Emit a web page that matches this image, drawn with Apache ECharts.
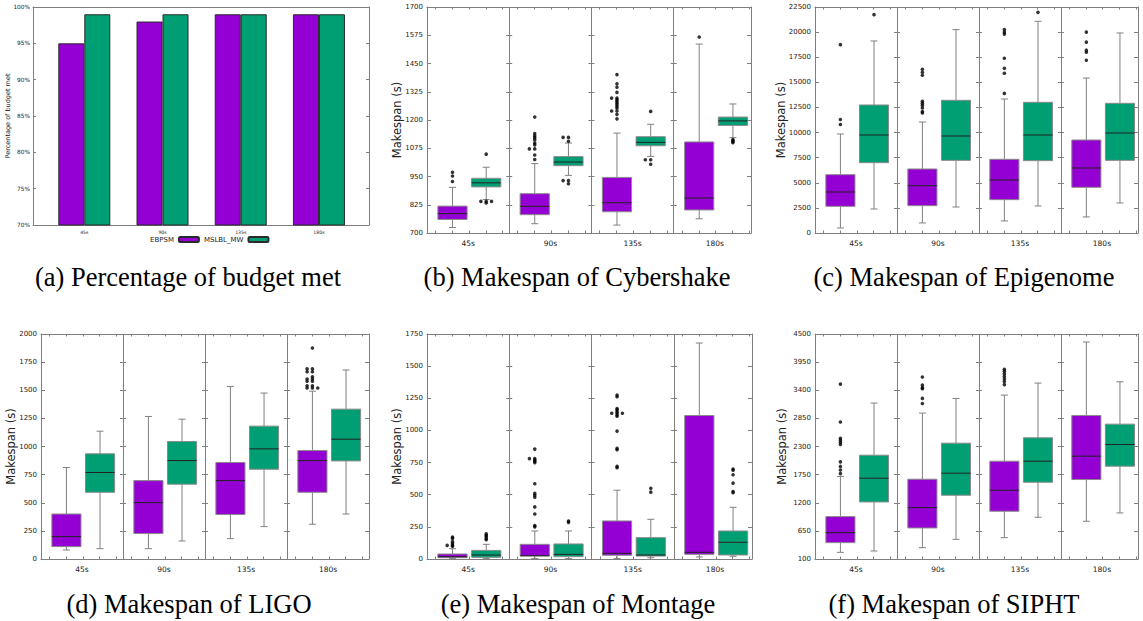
<!DOCTYPE html>
<html><head><meta charset="utf-8">
<script src="https://cdn.jsdelivr.net/npm/echarts@6/dist/echarts.min.js"></script>
<style>html,body{margin:0;padding:0;background:#fff}#c{width:1143px;height:621px}</style>
</head><body><div id="c"></div>
<script>
// ---------------- DATA ----------------
const categories = ['45s', '90s', '135s', '180s'];
const seriesNames = ['EBPSM', 'MSLBL_MW'];

// (a) percentage of budget met
const budgetTicks = [70, 75, 80, 85, 90, 95, 100];
const budgetEBPSM = [95, 98, 99, 99];
const budgetMSLBL = [99, 99, 99, 99];

// box stats: [min, Q1, median, Q3, max] per category
// (b) Cybershake
const cyberTicks = [700, 825, 950, 1075, 1200, 1325, 1450, 1575, 1700];
const cyberEBPSM = [[724, 760, 786, 819, 902], [741, 781, 818, 874, 1007], [735, 794, 834, 946, 1142], [763, 802, 855, 1103, 1536]];
const cyberEBPSMOut = [[969, 952, 928], [1213, 1140, 1130, 1122, 1112, 1098, 1090, 1072, 1072, 1045, 1025], [1401, 1360, 1345, 1322, 1297, 1297, 1290, 1283, 1275, 1268, 1260, 1252, 1240, 1240, 1225, 1205], [1567]];
const cyberMSLBL = [[848, 904, 922, 942, 991], [955, 998, 1014, 1038, 1098], [1039, 1086, 1101, 1126, 1181], [1122, 1176, 1196, 1213, 1271]];
const cyberMSLBLOut = [[1049, 840, 840, 840, 833], [1123, 1123, 1106, 932, 932, 918], [1238, 1024, 1024, 1004], [1113, 1108, 1104, 1100]];

// (c) Epigenome
const epiTicks = [0, 2500, 5000, 7500, 10000, 12500, 15000, 17500, 20000, 22500];
const epiEBPSM = [[500, 2655, 4082, 5808, 9857], [1000, 2722, 4713, 6372, 11050], [1200, 3319, 5277, 7335, 13340], [1600, 4547, 6472, 9260, 15430]];
const epiEBPSMOut = [[18750, 11300, 10800], [16300, 16000, 15700, 13100, 12900, 12700, 12450, 12100, 11950], [20250, 20000, 19800, 17400, 16400, 15900, 13900], [20000, 19000, 18200, 18000, 17200]];
const epiMSLBL = [[2390, 7003, 9758, 12745, 19117], [2590, 7235, 9658, 13210, 20246], [2690, 7202, 9758, 13011, 21076], [2990, 7235, 9957, 12911, 19914]];
const epiMSLBLOut = [[21740], [], [21970], []];

// (d) LIGO
const ligoTicks = [0, 250, 500, 750, 1000, 1250, 1500, 1750, 2000];
const ligoEBPSM = [[80, 110, 199, 400, 813], [92, 226, 501, 697, 1267], [181, 395, 697, 858, 1534], [309, 593, 875, 964, 1492]];
const ligoEBPSMOut = [[], [], [], [1875, 1690, 1690, 1665, 1665, 1620, 1600, 1600, 1580, 1580, 1540, 1540, 1520, 1520, 1520]];
const ligoMSLBL = [[92, 593, 769, 935, 1136], [160, 665, 875, 1044, 1243], [288, 798, 979, 1181, 1475], [400, 872, 1065, 1332, 1680]];
const ligoMSLBLOut = [[], [], [], []];

// (e) Montage
const montTicks = [0, 250, 500, 750, 1000, 1250, 1500, 1750];
const montEBPSM = [[3, 10, 18, 39, 80], [3, 23, 26, 114, 218], [3, 29, 44, 296, 535], [16, 36, 52, 1116, 1680]];
const montEBPSMOut = [[170, 160, 135, 120, 106, 106, 100], [855, 781, 781, 770, 760, 750, 585, 510, 495, 480, 405, 350, 260, 250], [1275, 1262, 1170, 1160, 1146, 1134, 1134, 1134, 1120, 1110, 995, 860, 850, 720, 710], []];
const montMSLBL = [[3, 13, 31, 67, 114], [3, 18, 36, 117, 218], [10, 23, 31, 166, 309], [21, 31, 130, 218, 402]];
const montMSLBLOut = [[195, 185, 175, 160, 150], [295, 285], [550, 520], [700, 690, 655, 590, 525, 515]];

// (f) SIPHT
const siphtTicks = [100, 650, 1200, 1750, 2300, 2850, 3400, 3950, 4500];
const siphtEBPSM = [[230, 420, 616, 929, 1712], [322, 707, 1105, 1660, 2953], [518, 1034, 1445, 2013, 3305], [838, 1654, 2111, 2907, 4343]];
const siphtEBPSMOut = [[3520, 2780, 2460, 2420, 2380, 2340, 2000, 1910, 1840, 1770], [3660, 3500, 3450, 3430, 3240, 3140], [3810, 3770, 3720, 3670, 3620, 3570, 3510], []];
const siphtMSLBL = [[257, 1216, 1680, 2130, 3149], [485, 1347, 1778, 2365, 3240], [916, 1601, 2013, 2470, 3540], [1001, 1915, 2339, 2737, 3566]];
const siphtMSLBLOut = [[], [], [], []];

const captions = ['(a) Percentage of budget met', '(b) Makespan of Cybershake', '(c) Makespan of Epigenome',
                  '(d) Makespan of LIGO', '(e) Makespan of Montage', '(f) Makespan of SIPHT'];

// ---------------- STYLE / LAYOUT ----------------
const PURPLE = '#9400d3', GREEN = '#009e73';
const FRAME = '#7f7f7f', TXT = '#222', WHISK = '#808080', BOXEDGE = '#8a8a8a';
const FONT = "'DejaVu Sans', Verdana, sans-serif";
const BOXW = 0.355;

const grids = [], xAxes = [], yAxes = [], series = [], graphics = [];

function makeBox(col) {
  return function (params, api) {
    const x = api.value(0);
    const pMin = api.coord([x, api.value(1)]);
    const pQ1 = api.coord([x, api.value(2)]);
    const pMed = api.coord([x, api.value(3)]);
    const pQ3 = api.coord([x, api.value(4)]);
    const pMax = api.coord([x, api.value(5)]);
    const hw = api.size([BOXW, 0])[0] / 2;
    const cx = pMed[0];
    const cap = 3.5;
    const ls = { stroke: WHISK, lineWidth: 1 };
    return {
      type: 'group', children: [
        { type: 'line', shape: { x1: cx, y1: pMax[1], x2: cx, y2: pQ3[1] }, style: ls },
        { type: 'line', shape: { x1: cx, y1: pQ1[1], x2: cx, y2: pMin[1] }, style: ls },
        { type: 'line', shape: { x1: cx - cap, y1: pMax[1], x2: cx + cap, y2: pMax[1] }, style: ls },
        { type: 'line', shape: { x1: cx - cap, y1: pMin[1], x2: cx + cap, y2: pMin[1] }, style: ls },
        { type: 'rect', shape: { x: cx - hw, y: pQ3[1], width: 2 * hw, height: pQ1[1] - pQ3[1] }, style: { fill: col, stroke: BOXEDGE, lineWidth: 1 } },
        { type: 'line', shape: { x1: cx - hw, y1: pMed[1], x2: cx + hw, y2: pMed[1] }, style: { stroke: '#222', lineWidth: 1 } }
      ]
    };
  };
}

const plain = v => String(v);

function boxPanel(p) {
  const gi = grids.length;
  const W = p.R - p.L, H = p.B - p.T;
  grids.push({ left: p.L, top: p.T, width: W, height: H });
  const G = W / p.xmax;
  const t = p.ticks;
  const ymin = t[0], ymax = t[t.length - 1], yint = t[1] - t[0];
  const minor = [];
  for (let g = 0; g < 4; g++) for (let j = 0; j < 5; j++) { const v = g + 0.1 + 0.205 * j; if (v < p.xmax) minor.push(v); }
  const xb = xAxes.length;
  xAxes.push({
    gridIndex: gi, type: 'value', position: 'bottom', min: 0, max: p.xmax, interval: 1,
    axisLine: { show: true, onZero: false, lineStyle: { color: FRAME, width: 1 } },
    axisTick: { show: true, inside: true, length: 2.5, customValues: minor, lineStyle: { color: FRAME } },
    axisLabel: { show: true, customValues: [0.5, 1.5, 2.5, 3.5], formatter: v => categories[Math.floor(v)], fontSize: 7.5, fontFamily: FONT, color: TXT, margin: 6 },
    splitLine: { show: false }
  });
  xAxes.push({
    gridIndex: gi, type: 'value', position: 'top', min: 0, max: p.xmax, interval: 1,
    axisLine: { show: true, onZero: false, lineStyle: { color: FRAME, width: 1 } },
    axisTick: { show: true, inside: true, length: 2.5, customValues: minor, lineStyle: { color: FRAME } },
    axisLabel: { show: false }, splitLine: { show: false }
  });
  // hidden axis that only draws the group separators at 1, 2, 3
  xAxes.push({
    gridIndex: gi, type: 'value', position: 'bottom', min: 0, max: p.xmax, interval: 1,
    axisLine: { show: false, onZero: false }, axisTick: { show: false }, axisLabel: { show: false },
    splitLine: { show: true, showMinLine: false, showMaxLine: false, lineStyle: { color: FRAME, width: 1 } }
  });
  const yb = yAxes.length;
  const yBase = { gridIndex: gi, type: 'value', min: ymin, max: ymax, interval: yint, splitLine: { show: false } };
  yAxes.push(Object.assign({}, yBase, {
    position: 'left', name: 'Makespan (s)', nameLocation: 'middle', nameGap: p.nameGap, nameMoveOverlap: false,
    nameTextStyle: { fontSize: 11.5, fontFamily: FONT, color: TXT },
    axisLine: { show: true, onZero: false, lineStyle: { color: FRAME, width: 1 } },
    axisTick: { show: true, inside: true, length: 4, lineStyle: { color: FRAME } },
    axisLabel: { fontSize: 7, fontFamily: FONT, color: TXT, margin: 4, formatter: plain }
  }));
  yAxes.push(Object.assign({}, yBase, {
    position: 'right',
    axisLine: { show: true, onZero: false, lineStyle: { color: FRAME, width: 1 } },
    axisTick: { show: true, inside: true, length: 4, lineStyle: { color: FRAME } },
    axisLabel: { show: false }
  }));
  for (let k = 1; k <= 3; k++) {
    yAxes.push(Object.assign({}, yBase, {
      position: 'left', offset: -k * G,
      axisLine: { show: false, onZero: false },
      axisTick: { show: true, inside: true, length: 3, lineStyle: { color: FRAME } },
      axisLabel: { show: false }
    }));
    yAxes.push(Object.assign({}, yBase, {
      position: 'right', offset: -(W - k * G),
      axisLine: { show: false, onZero: false },
      axisTick: { show: true, inside: true, length: 3, lineStyle: { color: FRAME } },
      axisLabel: { show: false }
    }));
  }
  [[p.eb, p.ebOut, 0.31, PURPLE], [p.ms, p.msOut, 0.72, GREEN]].forEach(([stats, outs, off, col]) => {
    series.push({
      type: 'custom', xAxisIndex: xb, yAxisIndex: yb, silent: true, animation: false, z: 2,
      data: stats.map((s, i) => [i + off].concat(s)),
      encode: { x: 0, y: [1, 2, 3, 4, 5] },
      renderItem: makeBox(col)
    });
    const pts = [];
    outs.forEach((arr, i) => {
      const seen = {};
      arr.forEach(v => {
        const k = seen[v] || 0; seen[v] = k + 1;
        const dx = k === 0 ? 0 : (k % 2 === 1 ? -1 : 1) * Math.ceil(k / 2) * 0.065;
        pts.push([i + off + dx, v]);
      });
    });
    series.push({
      type: 'scatter', xAxisIndex: xb, yAxisIndex: yb, silent: true, animation: false, z: 3,
      symbol: 'circle', symbolSize: 3.6, itemStyle: { color: '#000' }, data: pts
    });
  });
}

// ---- (a) bar panel ----
(function () {
  const gi = grids.length;
  grids.push({ left: 33, top: 7, width: 336, height: 218 });
  const xb = xAxes.length;
  xAxes.push({
    gridIndex: gi, type: 'value', position: 'bottom', min: -0.656, max: 3.64,
    axisLine: { show: true, onZero: false, lineStyle: { color: FRAME, width: 1 } },
    axisTick: { show: false },
    axisLabel: { customValues: [0, 1, 2, 3], formatter: v => categories[Math.round(v)], fontSize: 4.6, fontFamily: FONT, color: TXT, margin: 5 },
    splitLine: { show: false }
  });
  xAxes.push({
    gridIndex: gi, type: 'value', position: 'top', min: -0.656, max: 3.64,
    axisLine: { show: true, onZero: false, lineStyle: { color: FRAME, width: 1 } },
    axisTick: { show: false }, axisLabel: { show: false }, splitLine: { show: false }
  });
  const yb = yAxes.length;
  const t = budgetTicks;
  const yBase = { gridIndex: gi, type: 'value', min: t[0], max: t[t.length - 1], interval: t[1] - t[0], splitLine: { show: false } };
  yAxes.push(Object.assign({}, yBase, {
    position: 'left', name: 'Percentage of budget met', nameLocation: 'middle', nameGap: 22, nameMoveOverlap: false,
    nameTextStyle: { fontSize: 6.5, fontFamily: FONT, color: TXT },
    axisLine: { show: true, onZero: false, lineStyle: { color: FRAME, width: 1 } },
    axisTick: { show: true, inside: true, length: 3, lineStyle: { color: FRAME } },
    axisLabel: { formatter: '{value}%', fontSize: 5.8, fontFamily: FONT, color: TXT, margin: 3 }
  }));
  yAxes.push(Object.assign({}, yBase, {
    position: 'right',
    axisLine: { show: true, onZero: false, lineStyle: { color: FRAME, width: 1 } },
    axisTick: { show: true, inside: true, length: 3, lineStyle: { color: FRAME } },
    axisLabel: { show: false }
  }));
  [[budgetEBPSM, PURPLE, seriesNames[0]], [budgetMSLBL, GREEN, seriesNames[1]]].forEach(([vals, col, nm]) => {
    series.push({
      type: 'bar', name: nm, xAxisIndex: xb, yAxisIndex: yb, barWidth: 26, barGap: '0%', animation: false,
      itemStyle: { color: col, borderColor: '#2a2a2a', borderWidth: 1 },
      data: vals.map((v, i) => [i, v])
    });
  });
})();

boxPanel({ L: 427, T: 7, R: 751, B: 233, xmax: 3.94, nameGap: 24, ticks: cyberTicks, eb: cyberEBPSM, ebOut: cyberEBPSMOut, ms: cyberMSLBL, msOut: cyberMSLBLOut });
boxPanel({ L: 815, T: 7, R: 1138, B: 233, xmax: 3.94, nameGap: 28, ticks: epiTicks, eb: epiEBPSM, ebOut: epiEBPSMOut, ms: epiMSLBL, msOut: epiMSLBLOut });
boxPanel({ L: 41, T: 334, R: 369, B: 559, xmax: 4.0, nameGap: 24, ticks: ligoTicks, eb: ligoEBPSM, ebOut: ligoEBPSMOut, ms: ligoMSLBL, msOut: ligoMSLBLOut });
boxPanel({ L: 427, T: 334, R: 752, B: 559, xmax: 3.95, nameGap: 24.5, ticks: montTicks, eb: montEBPSM, ebOut: montEBPSMOut, ms: montMSLBL, msOut: montMSLBLOut });
boxPanel({ L: 815, T: 334, R: 1138, B: 559, xmax: 3.94, nameGap: 27, ticks: siphtTicks, eb: siphtEBPSM, ebOut: siphtEBPSMOut, ms: siphtMSLBL, msOut: siphtMSLBLOut });

const capPos = [[188, 277], [577, 277], [964, 277], [189, 604], [578, 604], [954, 604]];
captions.forEach((c, i) => {
  graphics.push({
    type: 'text', x: capPos[i][0], y: capPos[i][1], silent: true,
    style: { text: c, font: "26.5px 'Liberation Serif', 'Times New Roman', serif", fill: '#000', textAlign: 'center', textVerticalAlign: 'middle' }
  });
});

const chart = echarts.init(document.getElementById('c'), null, { renderer: 'svg', width: 1143, height: 621 });
chart.setOption({
  animation: false,
  backgroundColor: '#fff',
  grid: grids, xAxis: xAxes, yAxis: yAxes, series: series, graphic: graphics,
  legend: {
    data: seriesNames, left: 150, top: 236, align: 'right', itemWidth: 20, itemHeight: 5, itemGap: 4,
    textStyle: { fontSize: 7, fontFamily: FONT, color: TXT, padding: [0, 0, 0, 0] }, padding: 0, selectedMode: false
  }
});
</script></body></html>
